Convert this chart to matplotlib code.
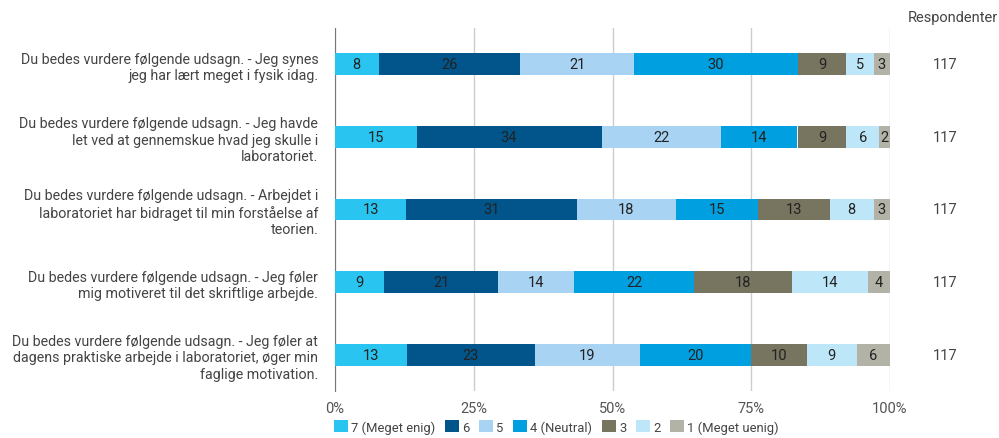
import numpy as np
import matplotlib.pyplot as plt
from matplotlib.patches import Patch

plt.rcParams['font.family'] = ['Roboto', 'DejaVu Sans']

# udsagn (rækker, oppefra og ned)
questions = [
    "Du bedes vurdere følgende udsagn. - Jeg synes\njeg har lært meget i fysik idag.",
    "Du bedes vurdere følgende udsagn. - Jeg havde\nlet ved at gennemskue hvad jeg skulle i\nlaboratoriet.",
    "Du bedes vurdere følgende udsagn. - Arbejdet i\nlaboratoriet har bidraget til min forståelse af\nteorien.",
    "Du bedes vurdere følgende udsagn. - Jeg føler\nmig motiveret til det skriftlige arbejde.",
    "Du bedes vurdere følgende udsagn. - Jeg føler at\ndagens praktiske arbejde i laboratoriet, øger min\nfaglige motivation.",
]

categories = ["7 (Meget enig)", "6", "5", "4 (Neutral)", "3", "2", "1 (Meget uenig)"]
colors = ["#29c4f0", "#01558a", "#a9d3f2", "#009fe0", "#77745f", "#bde6f8", "#b3b2a6"]

# procenter pr. række (afrundet, som vist i figuren)
percent = [
    [8, 26, 21, 30, 9, 5, 3],
    [15, 34, 22, 14, 9, 6, 2],
    [13, 31, 18, 15, 13, 8, 3],
    [9, 21, 14, 22, 18, 14, 4],
    [13, 23, 19, 20, 10, 9, 6],
]
respondents = [117, 117, 117, 117, 117]

fig = plt.figure(figsize=(9.99, 4.39), dpi=100)
ax = fig.add_axes([335 / 999, 1 - 392 / 439, 555 / 999, 363 / 439])

data = np.array(percent, dtype=float)
widths = data / data.sum(axis=1, keepdims=True)
y = np.arange(len(questions))

for i in range(len(questions)):
    left = 0
    for j in range(len(categories)):
        w = widths[i, j]
        ax.barh(y[i], w, left=left, height=0.3, color=colors[j], zorder=3)
        ax.text(left + w / 2, y[i], str(percent[i][j]), ha='center', va='center',
                fontsize=10.5, color='#222222', zorder=4)
        left += w

ax.set_xlim(0, 1)
ax.set_ylim(len(questions) - 0.5, -0.5)
ax.set_xticks([0, 0.25, 0.5, 0.75, 1.0])
ax.set_xticklabels(["0%", "25%", "50%", "75%", "100%"])
ax.tick_params(axis='x', length=0, labelsize=10.5, labelcolor='#555555', pad=7)
ax.set_yticks(y)
ax.set_yticklabels(questions, fontsize=10.3, color='#444444')
ax.tick_params(axis='y', length=0, pad=12)
ax.grid(axis='x', color='#cccccc', linewidth=1, zorder=0)
for s in ['top', 'right', 'bottom']:
    ax.spines[s].set_visible(False)
ax.spines['left'].set_color('#777777')

# respondenter-kolonne
fig.text(953 / 999, 1 - 18 / 439, "Respondenter", ha='center', va='center',
         fontsize=10.5, color='#444444')
for i in range(len(questions)):
    ax.text(1.1, y[i], str(respondents[i]), ha='center', va='center',
            fontsize=10.5, color='#444444', transform=ax.get_yaxis_transform())

handles = [Patch(facecolor=c, edgecolor='none') for c in colors]
fig.legend(handles, categories, loc='center left', bbox_to_anchor=(330 / 999, 1 - 428 / 439),
           ncol=7, frameon=False, fontsize=9.4, handlelength=1.05, handleheight=1.05,
           handletextpad=0.25, columnspacing=0.75, labelcolor='#444444',
           borderaxespad=0, borderpad=0.3)

fig.savefig("out.png", dpi=100)
